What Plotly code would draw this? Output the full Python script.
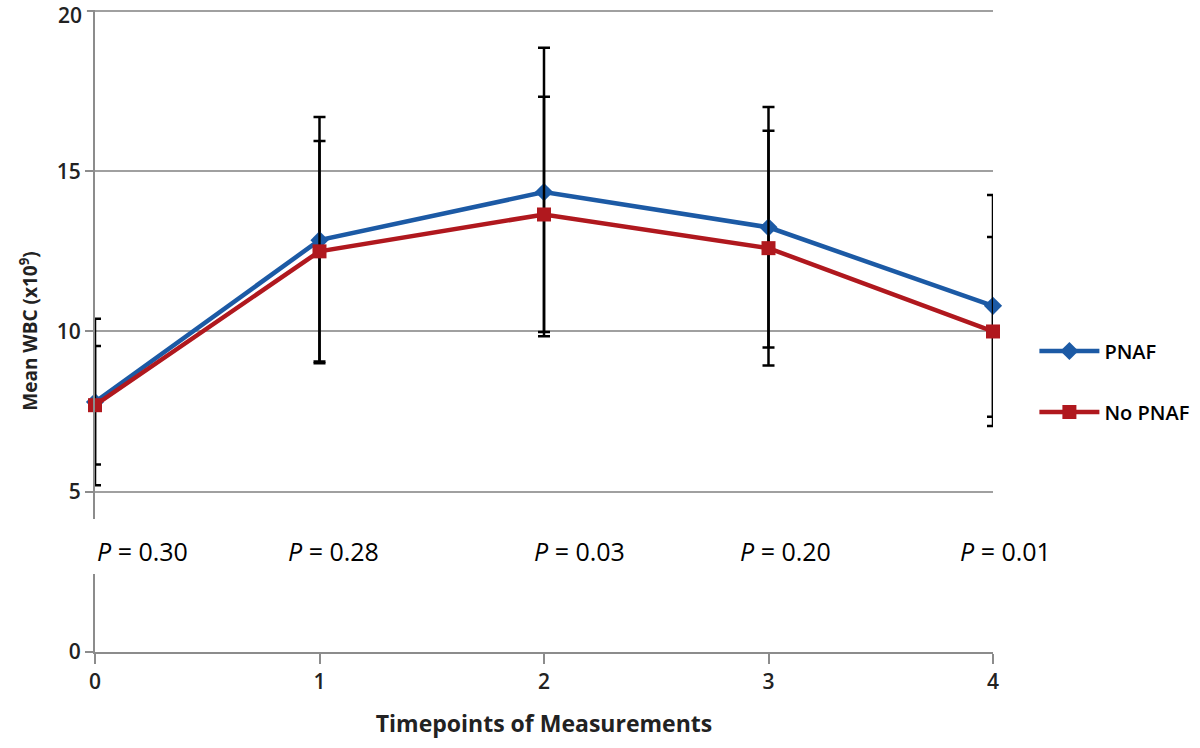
import plotly.graph_objects as go

timepoints = [0, 1, 2, 3, 4]
pnaf_mean = [7.8, 12.85, 14.35, 13.25, 10.8]
pnaf_err = [2.6, 3.84, 4.5, 3.75, 3.46]
nopnaf_mean = [7.7, 12.5, 13.65, 12.6, 10.0]
nopnaf_err = [1.85, 3.44, 3.67, 3.66, 2.95]
p_labels = ["0.30", "0.28", "0.03", "0.20", "0.01"]
p_xpos = [0.0, 1.0, 2.0, 3.0, 4.0]
p_xshift = [47, 14, 35, 17, 12]
p_y = 3.15
y_ticks = [0, 5, 10, 15, 20]
y_max = 20

BLUE = "rgb(28,90,165)"
RED = "rgb(176,24,30)"
FONT = "Open Sans"
GRID = "#a0a0a0"
TICKFONT = dict(family=FONT, size=21, color="#222", weight=600)

fig = go.Figure()
fig.add_trace(go.Scatter(
    x=timepoints, y=pnaf_mean, name="PNAF", mode="lines+markers",
    line=dict(color=BLUE, width=4.5),
    marker=dict(symbol="diamond", size=14, color=BLUE),
    error_y=dict(type="data", array=pnaf_err, color="black", thickness=2.5, width=6),
    legendgroup="a", cliponaxis=False,
))
fig.add_trace(go.Scatter(
    x=timepoints, y=nopnaf_mean, name="No PNAF", mode="lines+markers",
    line=dict(color=RED, width=4.5),
    marker=dict(symbol="square", size=14, color=RED),
    error_y=dict(type="data", array=nopnaf_err, color="black", thickness=2.5, width=6),
    legendgroup="b", cliponaxis=False,
))

# top gridline and its label (top edge of the value axis)
fig.add_shape(type="line", xref="paper", yref="y", x0=0, x1=1, y0=y_max, y1=y_max,
              line=dict(color=GRID, width=2), layer="below")
fig.add_shape(type="line", xref="paper", yref="y", x0=-0.009, x1=0, y0=y_max, y1=y_max,
              line=dict(color="#8c8c8c", width=2), layer="below")
fig.add_annotation(xref="paper", x=0, xshift=-12, xanchor="right", yref="y", y=y_max,
                   yanchor="top", yshift=11, borderpad=0,
                   text=str(y_max), showarrow=False, font=TICKFONT)

# white band behind the P-value row (interrupts the y axis line)
fig.add_shape(type="rect", xref="paper", yref="y", x0=-0.02, x1=0.1, y0=2.43, y1=4.15,
              fillcolor="white", line=dict(width=0), layer="above")

for xp, xs, lab in zip(p_xpos, p_xshift, p_labels):
    fig.add_annotation(x=xp, y=p_y, xref="x", yref="y", xshift=xs,
                       text="<i>P</i> = " + lab, showarrow=False,
                       font=dict(family=FONT, size=25, color="black", weight=500))

fig.update_layout(
    width=1200, height=748,
    margin=dict(l=95, r=207, t=10, b=96),
    paper_bgcolor="white", plot_bgcolor="white",
    font=dict(family=FONT, size=18, color="#222"),
    showlegend=True,
    legend=dict(xref="container", yref="container", x=0.862, y=0.49,
                xanchor="left", yanchor="middle",
                tracegroupgap=32, itemwidth=60,
                font=dict(family=FONT, size=20, color="black", weight=600),
                bgcolor="rgba(0,0,0,0)"),
    xaxis=dict(range=[0, 4], tickmode="array", tickvals=timepoints,
               ticktext=[str(t) for t in timepoints],
               showgrid=False, zeroline=False, automargin=False,
               showline=True, linecolor="#8c8c8c", linewidth=2,
               ticks="outside", ticklen=10, tickwidth=2, tickcolor="#8c8c8c",
               tickfont=TICKFONT,
               title=dict(text="<b>Timepoints of Measurements</b>", standoff=22,
                          font=dict(family=FONT, size=23, color="#222"))),
    yaxis=dict(range=[0, 20.03], tickmode="array", tickvals=y_ticks[:-1],
               ticktext=[str(t) for t in y_ticks[:-1]],
               showgrid=True, gridcolor=GRID, gridwidth=2,
               zeroline=False, automargin=False,
               showline=True, linecolor="#8c8c8c", linewidth=2,
               ticks="outside", ticklen=8, tickwidth=2, tickcolor="#8c8c8c",
               tickfont=TICKFONT,
               title=dict(text="<b>Mean WBC (x10<sup>9</sup>)</b>", standoff=14,
                          font=dict(family=FONT, size=19, color="#222"))),
)

fig.write_html("out.html", config={"displayModeBar": False},
               post_script="document.body.style.margin='0';document.body.style.overflow='hidden';")
